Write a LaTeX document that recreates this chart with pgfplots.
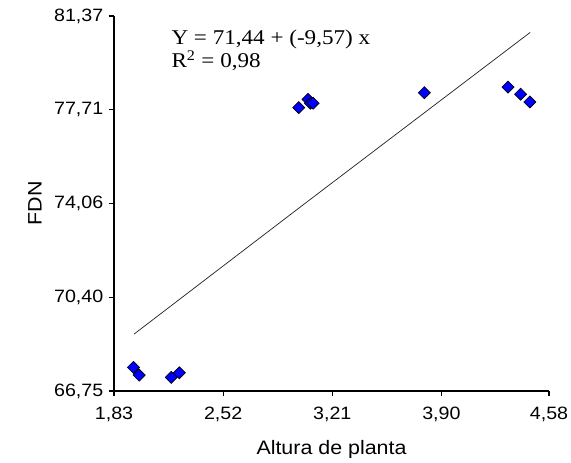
\documentclass[border=0pt]{standalone}
\usepackage{fontspec}
\setmainfont{Liberation Serif}[FakeStretch=1.1]
\setsansfont{Liberation Sans}[FakeStretch=1.1]
\usepackage{pgfplots}
\pgfplotsset{compat=1.18}
\begin{document}
\begin{tikzpicture}
\begin{axis}[
  scale only axis,
  width=326.25pt, height=281.25pt,
  xmin=1.83, xmax=4.58, ymin=66.75, ymax=81.37,
  axis x line*=bottom, axis y line*=left,
  axis line style={black, line width=0.9pt},
  tick align=outside, major tick length=4pt,
  every tick/.style={black, line width=0.9pt},
  xtick={1.83,2.52,3.21,3.90,4.58},
  xticklabels={{1,83},{2,52},{3,21},{3,90},{4,58}},
  ytick={66.75,70.40,74.06,77.71,81.37},
  yticklabels={{66,75},{70,40},{74,06},{77,71},{81,37}},
  ticklabel style={font=\sffamily\fontsize{13.4pt}{15pt}\selectfont},
  xticklabel style={yshift=-4.5pt},
  yticklabel style={xshift=-0.5pt},
  xlabel={Altura de planta},
  ylabel={FDN},
  label style={font=\sffamily\fontsize{14.6pt}{17pt}\selectfont},
  xlabel style={at={(axis description cs:0.5,0)}, anchor=base, yshift=-47.5pt},
  ylabel style={at={(axis description cs:0,0.5)}, anchor=center, yshift=59.25pt},
  clip=false,
]
\addplot[black!85, line width=0.55pt] coordinates {(1.957,68.97) (3.024,74.00) (4.461,80.73)};
\addplot[only marks, mark=square*, mark size=3.2pt,
  mark options={fill=blue, draw=black, line width=0.5pt, rotate=45}]
  coordinates {
  (1.953,67.67) (1.989,67.37) (2.192,67.28) (2.243,67.46)
  (2.998,77.80) (3.057,78.12) (3.072,77.97) (3.089,77.97)
  (3.792,78.38) (4.321,78.60) (4.401,78.32) (4.459,78.02)
  };
\node[anchor=base west, inner sep=0pt, font=\rmfamily\fontsize{15.75pt}{17pt}\selectfont] at (axis cs:2.192,80.24) {Y = 71,44 + (-9,57) x};
\node[anchor=base west, inner sep=0pt, font=\rmfamily\fontsize{15.75pt}{17pt}\selectfont] at (axis cs:2.192,79.36) {R\textsuperscript{2} = 0,98};
\coordinate (sw) at (rel axis cs:0,0);
\coordinate (ne) at (rel axis cs:1,1);
\end{axis}
\pgfresetboundingbox
\path[use as bounding box] ([xshift=-85.5pt,yshift=-53.25pt]sw) rectangle ([xshift=16.5pt,yshift=12pt]ne);
\end{tikzpicture}
\end{document}
